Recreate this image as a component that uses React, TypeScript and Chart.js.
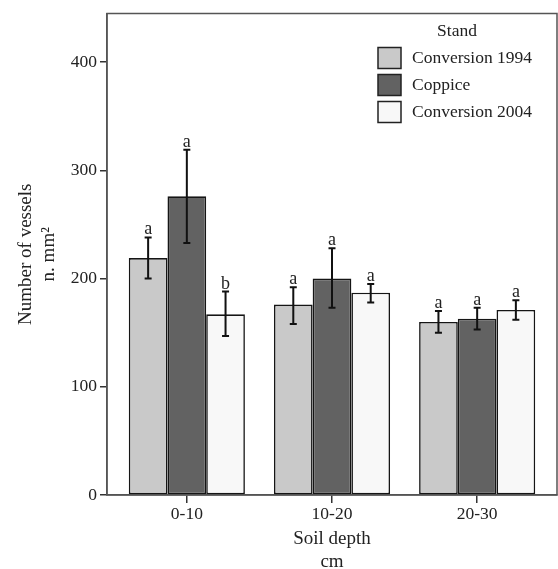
import React, { useEffect, useRef } from 'react';
import { Chart, registerables } from 'chart.js';
Chart.register(...registerables);

const categories = ['0-10', '10-20', '20-30'];
const seriesNames = ['Conversion 1994', 'Coppice', 'Conversion 2004'];
const conv1994 = [219, 176, 160];
const coppice = [276, 200, 163];
const conv2004 = [167, 187, 171];
const conv1994Low = [200, 158, 150];
const conv1994High = [238, 192, 170];
const coppiceLow = [233, 173, 153];
const coppiceHigh = [319, 228, 173];
const conv2004Low = [147, 178, 162];
const conv2004High = [188, 195, 180];
const conv1994Letters = ['a', 'a', 'a'];
const coppiceLetters = ['a', 'a', 'a'];
const conv2004Letters = ['b', 'a', 'a'];
const yTicks = [0, 100, 200, 300, 400];
const legendTitle = 'Stand';

const FONT = '"Liberation Serif", "Times New Roman", serif';
const fills = ['#c9c9c9', '#626262', '#f8f8f8'];
const lows = [conv1994Low, coppiceLow, conv2004Low];
const highs = [conv1994High, coppiceHigh, conv2004High];
const letters = [conv1994Letters, coppiceLetters, conv2004Letters];
const values = [conv1994, coppice, conv2004];

const errorPlugin = {
  id: 'errorBars',
  afterDatasetsDraw(chart: any) {
    const ctx = chart.ctx;
    const y = chart.scales.y;
    ctx.save();
    chart.data.datasets.forEach((ds: any, d: number) => {
      const meta = chart.getDatasetMeta(d);
      meta.data.forEach((el: any, i: number) => {
        const x = el.x;
        const yh = y.getPixelForValue(highs[d][i]);
        const yl = y.getPixelForValue(lows[d][i]);
        ctx.strokeStyle = '#111';
        ctx.lineWidth = 2;
        ctx.beginPath();
        ctx.moveTo(x, yh);
        ctx.lineTo(x, yl);
        ctx.moveTo(x - 3.5, yh);
        ctx.lineTo(x + 3.5, yh);
        ctx.moveTo(x - 3.5, yl);
        ctx.lineTo(x + 3.5, yl);
        ctx.stroke();
        ctx.fillStyle = '#222';
        ctx.font = '18px ' + FONT;
        ctx.textAlign = 'center';
        ctx.textBaseline = 'alphabetic';
        ctx.fillText(letters[d][i], x, yh - 3);
      });
    });
    ctx.restore();
  },
};

const framePlugin = {
  id: 'frame',
  afterDraw(chart: any) {
    const { left, right, top, bottom } = chart.chartArea;
    const ctx = chart.ctx;
    ctx.save();
    ctx.strokeStyle = '#555';
    ctx.lineWidth = 1.5;
    ctx.strokeRect(left, top, right - left, bottom - top);
    // legend
    const bx = right - 179;
    ctx.fillStyle = '#222';
    ctx.font = '17.5px ' + FONT;
    ctx.textAlign = 'center';
    ctx.textBaseline = 'middle';
    ctx.fillText(legendTitle, right - 100, top + 18);
    chart.data.datasets.forEach((ds: any, d: number) => {
      const cy = top + 44.5 + d * 27;
      ctx.fillStyle = ds.backgroundColor;
      ctx.fillRect(bx, cy - 10.5, 23, 21);
      ctx.strokeStyle = '#222';
      ctx.lineWidth = 1.5;
      ctx.strokeRect(bx, cy - 10.5, 23, 21);
      ctx.fillStyle = '#222';
      ctx.textAlign = 'left';
      ctx.fillText(ds.label, bx + 34, cy);
    });
    ctx.restore();
  },
};

export default function App() {
  const ref = useRef<HTMLCanvasElement>(null);
  useEffect(() => {
    document.body.style.margin = '0';
    const chart = new Chart(ref.current!, {
      type: 'bar',
      data: {
        datasets: seriesNames.map((name, d) => ({
          label: name,
          data: values[d].map((v, i) => ({ x: i + 1, y: v })),
          backgroundColor: fills[d],
          borderColor: '#151515',
          borderWidth: 1.6,
          borderSkipped: false,
          categoryPercentage: 0.8,
          barPercentage: 1,
        })),
      },
      options: {
        responsive: false,
        animation: false,
        layout: { padding: { top: 8, right: 1, left: 0, bottom: 0 } },
        plugins: { legend: { display: false }, tooltip: { enabled: false } },
        scales: {
          x: {
            type: 'linear',
            min: 0.45,
            max: 3.55,
            offset: false,
            afterBuildTicks: (s: any) => {
              s.ticks = categories.map((_, i) => ({ value: i + 1 }));
            },
            afterFit: (s: any) => {
              s.height = 74;
            },
            grid: { offset: false, drawOnChartArea: false, tickLength: 8, color: '#333', lineWidth: 1.5 },
            border: { color: '#555', width: 1.5 },
            ticks: {
              callback: (v: any) => categories[Math.round(v) - 1] ?? '',
              font: { family: FONT, size: 17.5 },
              color: '#222',
              padding: 1,
              autoSkip: false,
              maxRotation: 0,
            },
            title: {
              display: true,
              text: ['Soil depth', 'cm'],
              font: { family: FONT, size: 19, lineHeight: 1.18 },
              color: '#222',
              padding: { top: 0, bottom: -4 },
            },
          },
          y: {
            min: 0,
            max: 445,
            afterBuildTicks: (s: any) => {
              s.ticks = yTicks.map((v) => ({ value: v }));
            },
            afterFit: (s: any) => {
              s.width = 107;
            },
            grid: { drawOnChartArea: false, tickLength: 7, color: '#333', lineWidth: 1.5 },
            border: { color: '#555', width: 1.5 },
            ticks: {
              font: { family: FONT, size: 17.5 },
              color: '#222',
              padding: 3,
            },
            title: {
              display: true,
              text: ['Number of vessels', 'n. mm²'],
              font: { family: FONT, size: 19, lineHeight: 1.2 },
              color: '#222',
              padding: { top: 14.5, bottom: 0 },
            },
          },
        },
      },
      plugins: [errorPlugin, framePlugin],
    } as any);
    return () => chart.destroy();
  }, []);
  return (
    <div style={{ width: 558, height: 569 }}>
      <canvas ref={ref} width={558} height={569} style={{ display: 'block' }} />
    </div>
  );
}
